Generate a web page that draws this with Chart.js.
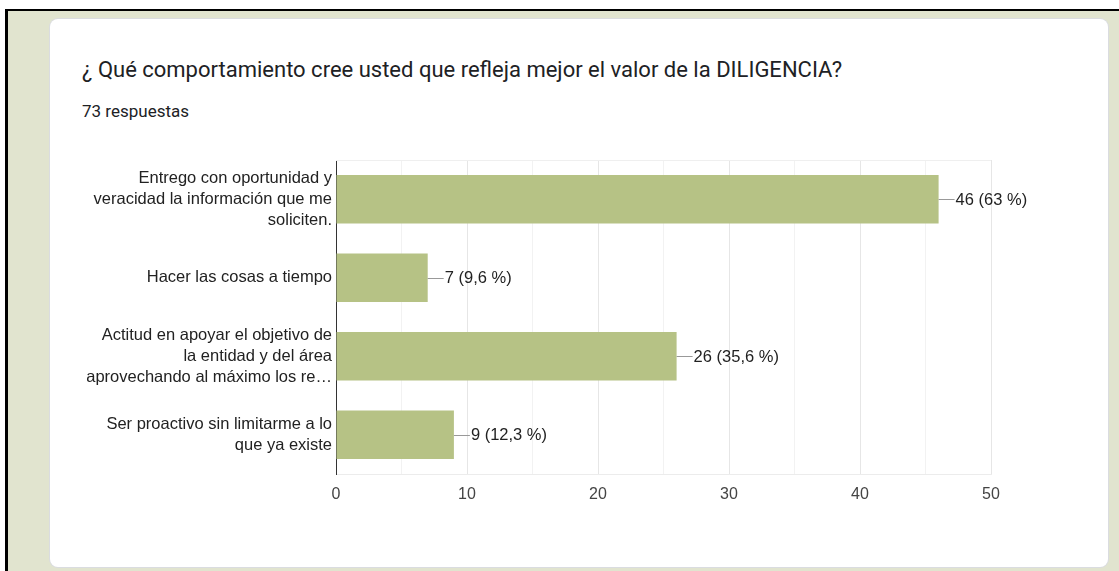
<!DOCTYPE html>
<html>
<head>
<meta charset="utf-8">
<script src="https://cdn.jsdelivr.net/npm/chart.js@4/dist/chart.umd.min.js"></script>
<style>
  html, body { margin: 0; padding: 0; background: #fff; }
  body { width: 1119px; height: 571px; position: relative; overflow: hidden; }
  #frame {
    position: absolute; left: 5px; top: 9px; right: 0; bottom: 0;
    border-left: 3px solid #000; border-top: 2px solid #000;
    background: #e1e4cf;
  }
  #card {
    position: absolute; left: 50px; top: 19px; width: 1058px; height: 548px;
    background: #fff; border-radius: 8px;
    box-shadow: 0 0 0 1px #dadce0;
  }
  .title {
    position: absolute; left: 82px; top: 59px;
    font: 22px Roboto, sans-serif; line-height: 22px; color: #202124;
    white-space: nowrap;
  }
  .sub {
    position: absolute; left: 82px; top: 103px;
    font: 17px Roboto, sans-serif; line-height: 17px; color: #202124;
  }
  #wrap { position: absolute; left: 50px; top: 150px; width: 1058px; height: 370px; }
</style>
</head>
<body>
<div id="frame"></div>
<div id="card"></div>
<div class="title">¿ Qué comportamiento cree usted que refleja mejor el valor de la DILIGENCIA?</div>
<div class="sub">73 respuestas</div>
<div id="wrap"><canvas id="chart"></canvas></div>
<script>
const categories = [
  ["Entrego con oportunidad y", "veracidad la información que me", "soliciten."],
  ["Hacer las cosas a tiempo"],
  ["Actitud en apoyar el objetivo de", "la entidad y del área", "aprovechando al máximo los re…"],
  ["Ser proactivo sin limitarme a lo", "que ya existe"]
];
const responses = [46, 7, 26, 9];
const percentLabels = ["63", "9,6", "35,6", "12,3"];
const xTicks = [0, 10, 20, 30, 40, 50];

const fontFamily = "'Liberation Sans', Arial, sans-serif";

const valueLabels = {
  id: "valueLabels",
  beforeDatasetsDraw(chart) {
    // faint top edge of the plot
    const { ctx, chartArea } = chart;
    ctx.save();
    ctx.strokeStyle = "#efefef";
    ctx.beginPath();
    ctx.moveTo(chartArea.left, chartArea.top + 0.5);
    ctx.lineTo(chartArea.right, chartArea.top + 0.5);
    ctx.stroke();
    ctx.restore();
  },
  afterDatasetsDraw(chart) {
    const ctx = chart.ctx;
    const meta = chart.getDatasetMeta(0);
    ctx.save();
    ctx.font = "16.5px " + fontFamily;
    ctx.textBaseline = "middle";
    meta.data.forEach((bar, i) => {
      const x = bar.x, y = bar.y;
      ctx.strokeStyle = "#999";
      ctx.lineWidth = 1;
      ctx.beginPath();
      ctx.moveTo(x, Math.round(y) + 0.5);
      ctx.lineTo(x + 16, Math.round(y) + 0.5);
      ctx.stroke();
      ctx.fillStyle = "#222";
      ctx.fillText(responses[i] + " (" + percentLabels[i] + " %)", x + 17, y + 1);
    });
    ctx.restore();
  }
};

new Chart(document.getElementById("chart"), {
  type: "bar",
  data: {
    labels: categories,
    datasets: [{
      data: responses,
      backgroundColor: "#b6c285",
      categoryPercentage: 1,
      barPercentage: 0.615
    }]
  },
  options: {
    indexAxis: "y",
    responsive: true,
    maintainAspectRatio: false,
    animation: false,
    layout: { padding: { top: 10, right: 117, left: 0, bottom: 0 } },
    plugins: { legend: { display: false }, tooltip: { enabled: false } },
    scales: {
      x: {
        min: 0, max: 50,
        afterFit(scale) { scale.height = 46; },
        grid: {
          drawTicks: false,
          color: ctx => (ctx.tick && ctx.tick.value % 10 === 0) ? "#e6e6e6" : "#f2f2f2"
        },
        border: { display: true, color: "#ececec" },
        ticks: {
          stepSize: 5,
          padding: 11,
          color: "#444",
          font: { family: fontFamily, size: 16 },
          callback: v => xTicks.includes(v) ? String(v) : ""
        }
      },
      y: {
        afterFit(scale) {
          scale.width = 286;
          scale.paddingTop = 0;
          scale.paddingBottom = 0;
        },
        grid: { display: false, drawTicks: false },
        border: { display: true, color: "#333", width: 1 },
        ticks: {
          padding: 4,
          color: "#222",
          font: { family: fontFamily, size: 16.5, lineHeight: "21px" }
        }
      }
    }
  },
  plugins: [valueLabels]
});
</script>
</body>
</html>
